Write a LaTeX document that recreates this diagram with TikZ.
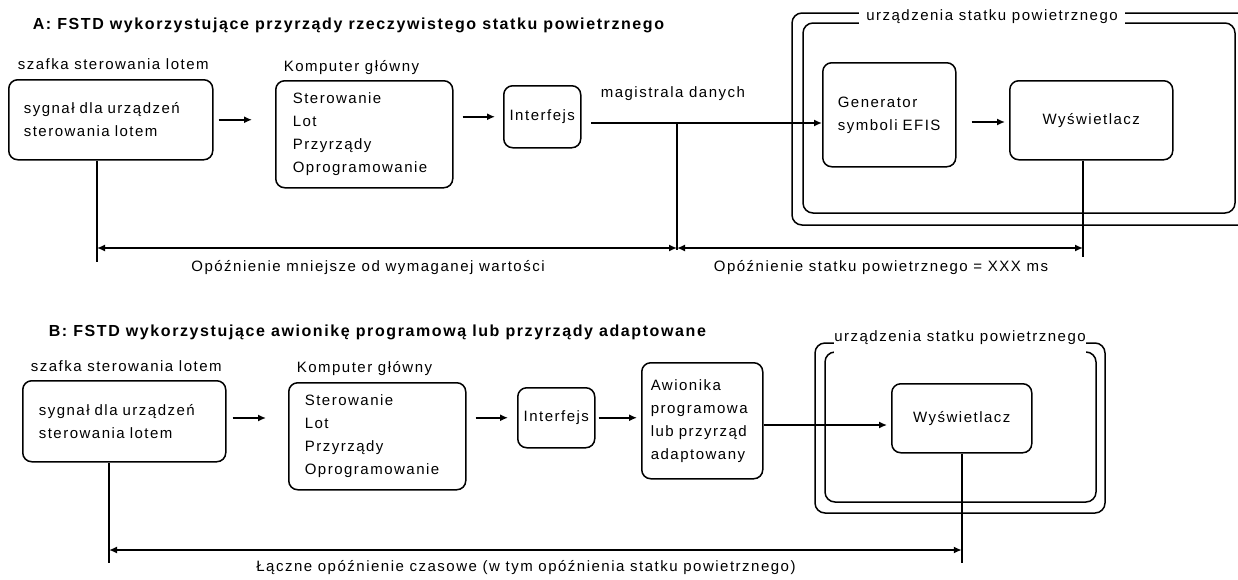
\documentclass[tikz,border=0pt]{standalone}
\usepackage{fontspec}
\setmainfont{Liberation Sans}[LetterSpace=10]
\usetikzlibrary{arrows.meta,positioning}
\newcommand{\upbox}[2]{\raisebox{#1}{\begin{tabular}{@{}l@{}}#2\end{tabular}}}

\begin{document}
\begin{tikzpicture}[x=1pt, y=-1pt, line width=1.5pt,
 every node/.style={font=\fontsize{15}{23}\selectfont, inner sep=0pt},
 bx/.style={draw, rounded corners=9pt, anchor=north west, align=left},
 lb/.style={text depth=0pt},
 hd/.style={anchor=west, font=\fontsize{16}{20}\selectfont\bfseries},
 ar/.style={-{Latex[length=8pt,width=7pt]}},
 dm/.style={{Latex[length=8pt,width=7pt]}-{Latex[length=8pt,width=7pt]}},
 fr/.style={rounded corners=10pt},
 frtag/.style={fill=white, anchor=base, text height=12pt}]
\useasboundingbox (0,0) rectangle (1238,579);
\fill[white] (0,0) rectangle (1238,579);
% A: real aircraft instruments
\node[hd] (hdrA) at (32,25) {A: FSTD wykorzystujące przyrządy rzeczywistego statku powietrznego};
\node[bx, minimum width=204pt, minimum height=80pt, text width=174pt] (sygA) at (8,79) {sygnał dla urządzeń\\sterowania lotem};
\node[lb, above right=9pt and 9pt of sygA.north west] (szafA) {szafka sterowania lotem};
\node[bx, minimum width=177pt, minimum height=107pt, text width=143pt] (kompA) at (275,80) {Sterowanie\\Lot\\Przyrządy\\Oprogramowanie};
\node[lb, above right=8pt and 8pt of kompA.north west] (kompLblA) {Komputer główny};
\node[bx, align=center, minimum width=77pt, minimum height=62pt] (intA) at (503,85) {Interfejs};
\draw[fr] (792,13) rectangle (1250,225);
\draw[fr] (803,23) rectangle (1235,213);
\node[frtag, text depth=8pt, inner xsep=7pt] (urzA) at (992,20) {urządzenia statku powietrznego};
\node[bx, minimum width=133pt, minimum height=104pt, text width=103pt] (genA) at (822,62) {\upbox{6pt}{Generator\\symboli EFIS}};
\node[bx, align=center, minimum width=163pt, minimum height=79pt] (wysA) at (1009,80) {\raisebox{3pt}{Wyświetlacz}};
\coordinate (busA) at (591,123);
\coordinate (linkA) at (0,122);
\node[lb, above right=25pt and 9pt of busA] (magA) {magistrala danych};
\draw[ar, shorten <=5pt, shorten >=23pt] (sygA.east) -- (sygA.east -| kompA.west);
\draw[ar, shorten <=9pt, shorten >=8pt] (kompA.east |- intA.west) -- (intA.west);
\draw[ar] (busA) -- (busA -| genA.west);
\draw[ar, shorten <=15pt, shorten >=4pt] (genA.east |- linkA) -- (wysA.west |- linkA);
% A: delays
\coordinate (tapA) at (677,250);
\coordinate (endA1) at (97,262);
\coordinate (endA2) at (1083,257);
\coordinate (dimA) at (0,248);
\draw (busA -| tapA) -- (tapA);
\draw (sygA.south -| endA1) -- (endA1);
\draw (wysA.south -| endA2) -- (endA2);
\draw[dm] (endA1 |- dimA) -- (tapA |- dimA);
\draw[dm] (tapA |- dimA) -- (endA2 |- dimA);
\node (opA1) at (368,268) {Opóźnienie mniejsze od wymaganej wartości};
\node (opA2) at (881,268) {Opóźnienie statku powietrznego = XXX ms};
% B: software avionics
\node[hd] (hdrB) at (48,332) {B: FSTD wykorzystujące awionikę programową lub przyrządy adaptowane};
\node[bx, minimum width=203pt, minimum height=81pt, text width=171pt] (sygB) at (22,380) {sygnał dla urządzeń\\sterowania lotem};
\node[lb, above right=8pt and 8pt of sygB.north west] (szafB) {szafka sterowania lotem};
\node[bx, minimum width=177pt, minimum height=107pt, text width=145pt] (kompB) at (288,382) {Sterowanie\\Lot\\Przyrządy\\Oprogramowanie};
\node[lb, above right=9pt and 8pt of kompB.north west] (kompLblB) {Komputer główny};
\node[bx, align=center, minimum width=77pt, minimum height=60pt] (intB) at (517,387) {Interfejs};
\node[bx, minimum width=121pt, minimum height=116pt, text width=103pt] (awB) at (641,362) {\upbox{4pt}{Awionika\\programowa\\lub przyrząd\\adaptowany}};
\draw[fr] (815,343) rectangle (1105,513);
\draw[fr] (825,352) rectangle (1096,502);
\node[frtag, text depth=16pt] (urzB) at (960,341) {urządzenia statku powietrznego};
\node[bx, align=center, minimum width=140pt, minimum height=69pt] (wysB) at (891,383) {Wyświetlacz};
\coordinate (stepB) at (0,418);
\coordinate (linkB) at (0,425);
\draw[ar, shorten <=6pt, shorten >=22pt] (sygB.east |- stepB) -- (kompB.west |- stepB);
\draw[ar, shorten <=9pt, shorten >=9pt] (kompB.east |- intB.west) -- (intB.west);
\draw[ar, shorten <=3pt, shorten >=4pt] (intB.east) -- (intB.east -| awB.west);
\draw[ar, shorten >=4pt] (awB.east |- linkB) -- (wysB.west |- linkB);
% B: total delay
\coordinate (endB1) at (109,563);
\coordinate (dimB) at (0,550);
\draw (sygB.south -| endB1) -- (endB1);
\draw (wysB.south) -- (wysB.south |- endB1);
\draw[dm] (endB1 |- dimB) -- (wysB.south |- dimB);
\node (laczB) at (526,568) {Łączne opóźnienie czasowe (w tym opóźnienia statku powietrznego)};
\end{tikzpicture}
\end{document}
